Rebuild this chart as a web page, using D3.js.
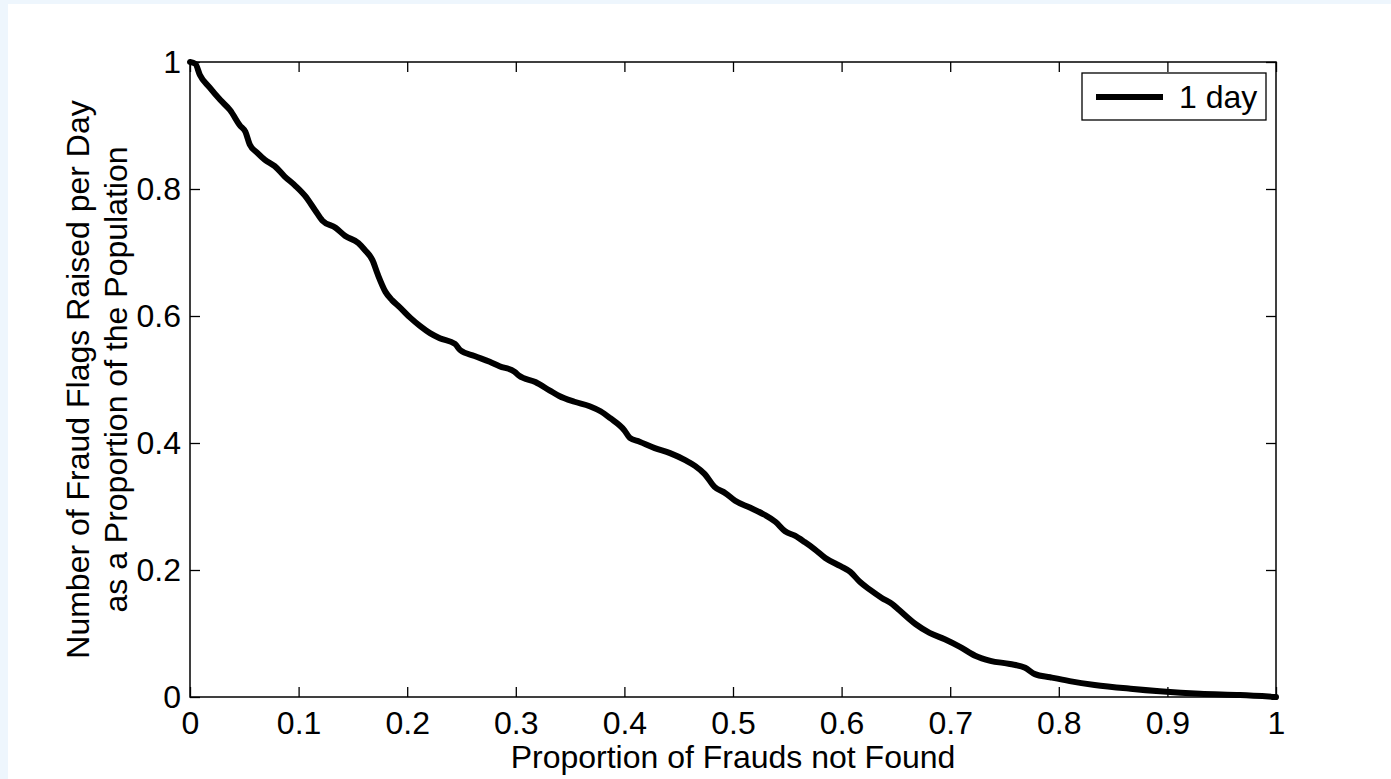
<!DOCTYPE html>
<html><head><meta charset="utf-8">
<script src="https://cdn.jsdelivr.net/npm/d3@7"></script>
<style>
html,body{margin:0;padding:0;background:#fff;}
svg{display:block;}
text{font-family:"Liberation Sans",Arial,sans-serif;fill:#000;}
</style></head>
<body>
<svg id="chart" width="1391" height="779"></svg>
<script>
const xTicks = [0,0.1,0.2,0.3,0.4,0.5,0.6,0.7,0.8,0.9,1];
const yTicks = [0,0.2,0.4,0.6,0.8,1];
const xTickLabels = ["0","0.1","0.2","0.3","0.4","0.5","0.6","0.7","0.8","0.9","1"];
const yTickLabels = ["0","0.2","0.4","0.6","0.8","1"];
const seriesName = "1 day";
const xLabel = "Proportion of Frauds not Found";
const yLabelLines = ["Number of Fraud Flags Raised per Day","as a Proportion of the Population"];

const propNotFound = [0,0.005,0.009,0.018,0.028,0.037,0.046,0.051,0.055,0.062,0.069,0.078,0.087,0.097,0.106,0.115,0.122,0.134,0.143,0.155,0.161,0.168,0.173,0.180,0.186,0.193,0.203,0.212,0.221,0.230,0.244,0.249,0.262,0.276,0.285,0.299,0.303,0.318,0.331,0.340,0.354,0.368,0.378,0.387,0.400,0.405,0.414,0.428,0.442,0.456,0.465,0.474,0.483,0.493,0.502,0.516,0.529,0.539,0.548,0.557,0.566,0.575,0.585,0.599,0.608,0.617,0.626,0.637,0.647,0.653,0.668,0.681,0.695,0.709,0.723,0.737,0.755,0.769,0.778,0.792,0.810,0.833,0.866,0.893,0.930,0.967,1];
const flagsPerDay = [1,0.997,0.98,0.96,0.94,0.924,0.90,0.89,0.87,0.857,0.846,0.836,0.82,0.805,0.789,0.767,0.75,0.739,0.726,0.715,0.704,0.688,0.665,0.638,0.625,0.614,0.597,0.584,0.573,0.565,0.556,0.546,0.537,0.528,0.521,0.512,0.506,0.496,0.483,0.474,0.465,0.458,0.45,0.439,0.42,0.408,0.402,0.392,0.384,0.373,0.364,0.351,0.331,0.321,0.309,0.298,0.287,0.276,0.261,0.254,0.244,0.233,0.219,0.206,0.197,0.181,0.169,0.156,0.146,0.137,0.115,0.101,0.091,0.079,0.065,0.057,0.052,0.046,0.036,0.031,0.025,0.019,0.013,0.009,0.005,0.003,0];

const svg = d3.select("#chart");
const W = 1391, H = 779;
const L = 190, R = 1276, T = 62, B = 697;
const FS = 32;

// light page strip
svg.append("rect").attr("x",0).attr("y",0).attr("width",W).attr("height",H).attr("fill","#eef6fd");
svg.append("rect").attr("x",8).attr("y",4).attr("width",W-8).attr("height",H-4).attr("fill","#fff");

const x = d3.scaleLinear().domain([0,1]).range([L,R]);
const y = d3.scaleLinear().domain([0,1]).range([B,T]);

const tickLen = 10;
const axB = d3.axisBottom(x).tickValues(xTicks).tickFormat((d,i)=>xTickLabels[i]).tickSizeInner(-tickLen).tickSizeOuter(0).tickPadding(14);
const axT = d3.axisTop(x).tickValues(xTicks).tickFormat("").tickSizeInner(-tickLen).tickSizeOuter(0);
const axL = d3.axisLeft(y).tickValues(yTicks).tickFormat((d,i)=>yTickLabels[i]).tickSizeInner(-tickLen).tickSizeOuter(0).tickPadding(9);
const axR = d3.axisRight(y).tickValues(yTicks).tickFormat("").tickSizeInner(-tickLen).tickSizeOuter(0);

function style(g){
  g.select(".domain").remove();
  g.selectAll(".tick line").attr("stroke","#000").attr("stroke-width",1.3);
  g.selectAll(".tick text").attr("font-size",FS).attr("font-family","Liberation Sans, Arial, sans-serif").attr("fill","#000");
}
svg.append("g").attr("transform",`translate(0,${B})`).call(axB).call(style);
svg.append("g").attr("transform",`translate(0,${T})`).call(axT).call(style);
svg.append("g").attr("transform",`translate(${L},0)`).call(axL).call(style);
svg.append("g").attr("transform",`translate(${R},0)`).call(axR).call(style);

// frame
svg.append("rect").attr("x",L).attr("y",T).attr("width",R-L).attr("height",B-T)
  .attr("fill","none").attr("stroke","#000").attr("stroke-width",1.5);

// curve
const pts = propNotFound.map((v,i)=>[v,flagsPerDay[i]]);
svg.append("path").datum(pts)
  .attr("d", d3.line().x(d=>x(d[0])).y(d=>y(d[1])).curve(d3.curveMonotoneX))
  .attr("fill","none").attr("stroke","#000").attr("stroke-width",6).attr("stroke-linejoin","round").attr("stroke-linecap","round");

// labels
svg.append("text").attr("x",(L+R)/2).attr("y",768).attr("text-anchor","middle").attr("font-size",FS).text(xLabel);
const yl = svg.append("text").attr("transform",`translate(89,${(T+B)/2}) rotate(-90)`).attr("text-anchor","middle").attr("font-size",FS);
yl.append("tspan").attr("x",0).attr("dy",0).text(yLabelLines[0]);
yl.append("tspan").attr("x",0).attr("dy",38).text(yLabelLines[1]);

// legend
const lg = svg.append("g");
lg.append("rect").attr("x",1082).attr("y",73).attr("width",184).attr("height",47).attr("fill","#fff").attr("stroke","#000").attr("stroke-width",1.3);
lg.append("line").attr("x1",1096).attr("x2",1163).attr("y1",97).attr("y2",97).attr("stroke","#000").attr("stroke-width",6);
lg.append("text").attr("x",1179).attr("y",108).attr("font-size",FS).text(seriesName);
</script>
</body></html>
